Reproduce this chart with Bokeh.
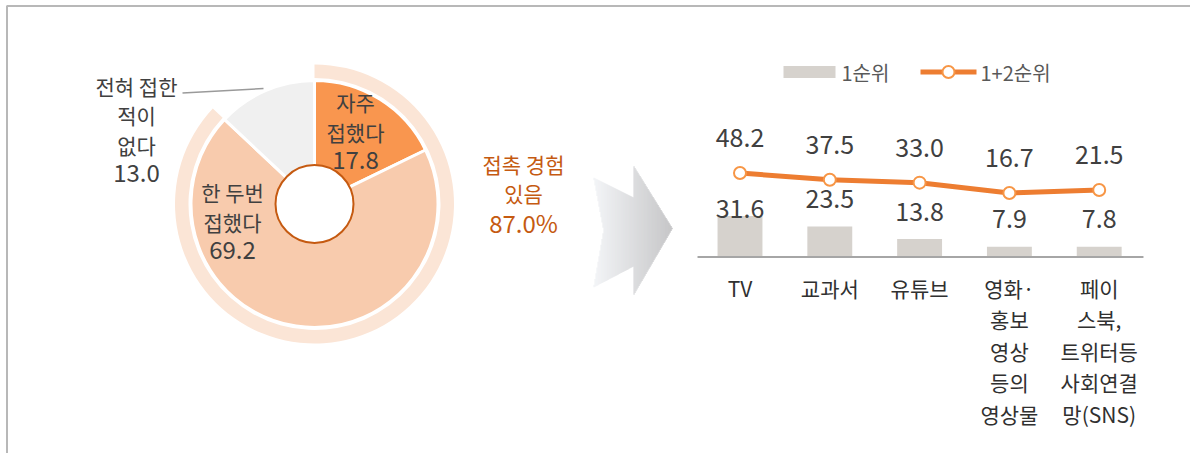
import numpy as np
from bokeh.plotting import figure
from bokeh.models import Range1d
from bokeh.core.properties import value
from bokeh.embed import file_html
from bokeh.resources import INLINE

# ---------------- data ----------------
donut_labels = ["자주\n접했다", "한 두번\n접했다", "전혀 접한\n적이\n없다"]
donut_values = [17.8, 69.2, 13.0]
contact_label = "접촉 경험\n있음"
contact_total = 87.0

categories = ["TV", "교과서", "유튜브",
              "영화·\n홍보\n영상\n등의\n영상물",
              "페이\n스북,\n트위터등\n사회연결\n망(SNS)"]
rank1 = [31.6, 23.5, 13.8, 7.9, 7.8]
rank12 = [48.2, 37.5, 33.0, 16.7, 21.5]
series_names = ["1순위", "1+2순위"]

# ---------------- layout / style ----------------
FONT = "Noto Sans CJK KR"
W, H = 1190, 453
OX, OY = 0, 0
TXT = "#404040"
ORANGE = "#ed7d31"
DARK_OR = "#c55a11"
BAR_C = "#d6d2cd"
slice_colors = ["#f9964f", "#f8cbad", "#f0f0f0"]
RING_C = "#fbe5d6"


def sy(y):
    """page-pixel y -> data y (y up)"""
    return OY + H - y


p = figure(width=W, height=H, x_range=Range1d(OX, OX + W), y_range=Range1d(0, H),
           output_backend="svg", toolbar_location=None, min_border=0,
           x_axis_location=None, y_axis_location=None)
p.grid.visible = False
p.outline_line_color = None
p.background_fill_color = "white"
p.border_fill_color = "white"

# frame lines (top & left)
p.line([6, W], [sy(5.5), sy(5.5)], line_color="#b8b8b8", line_width=2)
p.line([6.5, 6.5], [0, sy(5.5)], line_color="#b8b8b8", line_width=2)

# ---------------- donut ----------------
cx, cy = 314, sy(203.5)
vals = np.array(donut_values)
cum = np.concatenate([[0], np.cumsum(vals)]) / vals.sum()
starts = np.pi / 2 - 2 * np.pi * cum[:-1]
ends = np.pi / 2 - 2 * np.pi * cum[1:]

# outer ring for "contact" share
p.annular_wedge(x=cx, y=cy, inner_radius=126, outer_radius=139.5,
                start_angle=np.pi / 2,
                end_angle=np.pi / 2 - 2 * np.pi * contact_total / 100,
                direction="clock", fill_color=RING_C, line_color=None)

p.annular_wedge(x=[cx] * 3, y=[cy] * 3, inner_radius=30, outer_radius=123.5,
                start_angle=list(starts), end_angle=list(ends), direction="clock",
                fill_color=slice_colors, line_color="white", line_width=3)
p.circle(x=cx, y=cy, radius=39, fill_color="white", line_color=DARK_OR, line_width=2)

# slice labels (first-line centre, page coords)
label_pos = [(355, 101.7), (232, 191.7), (136, 85)]
LINE_GAP = 29.5
for lab, v, (lx, ly) in zip(donut_labels, donut_values, label_pos):
    lines = lab.split("\n")
    for i, ln in enumerate(lines):
        p.text(x=[lx], y=[sy(ly + i * LINE_GAP)], text=[ln], text_font=value(FONT),
               text_font_size="21px", text_color=TXT, text_align="center",
               text_baseline="middle")
    p.text(x=[lx], y=[sy(ly + len(lines) * LINE_GAP - 1)], text=[f"{v:.1f}"],
           text_font=value(FONT), text_font_size="24px", text_color=TXT,
           text_align="center", text_baseline="middle")

# leader line for the outside label
p.line([182, 263], [sy(92.5), sy(88)], line_color="#9a9a9a", line_width=1.5)

# contact text
c_lines = contact_label.split("\n")
for i, ln in enumerate(c_lines):
    p.text(x=[523], y=[sy(163 + i * 29.5)], text=[ln], text_font=value(FONT),
           text_font_size="21px", text_color=DARK_OR, text_align="center",
           text_baseline="middle")
p.text(x=[523], y=[sy(163 + len(c_lines) * 29.5)], text=[f"{contact_total:.1f}%"],
       text_font=value(FONT), text_font_size="24px", text_color=DARK_OR,
       text_align="center", text_baseline="middle")

# ---------------- gradient arrow ----------------
poly = [(593, 177), (633, 197), (633, 165), (672, 228), (633, 295), (633, 266),
        (593, 287), (603, 230)]
c0 = np.array([241, 243, 246])
c1 = np.array([184, 184, 186])
qs = dict(left=[], right=[], top=[], bottom=[], color=[])
for xc in range(593, 672):
    xm = xc + 0.5
    ys = []
    n = len(poly)
    for k in range(n):
        (x1, y1), (x2, y2) = poly[k], poly[(k + 1) % n]
        if (x1 <= xm < x2) or (x2 <= xm < x1):
            ys.append(y1 + (xm - x1) * (y2 - y1) / (x2 - x1))
    ys.sort()
    t = (xm - 593) / (672 - 593)
    col = (c0 + (c1 - c0) * t).astype(int)
    hexc = "#%02x%02x%02x" % tuple(col)
    for a, b in zip(ys[0::2], ys[1::2]):
        qs["left"].append(xc)
        qs["right"].append(xc + 1.1)
        qs["top"].append(sy(a))
        qs["bottom"].append(sy(b))
        qs["color"].append(hexc)
p.quad(left=qs["left"], right=qs["right"], top=qs["top"], bottom=qs["bottom"],
       fill_color=qs["color"], line_color=None)

# ---------------- bar + line chart ----------------
X0, DX = 739.5, 89.8           # page x of first category, spacing
BASE = OY + H - 256.5          # baseline height from frame bottom (px)
BPX = 1.3                      # px per unit for bars
LZERO = BASE + 53.4            # zero of line axis (px from bottom)
LPX = 0.635                    # px per unit for line

p.extra_x_ranges = {"idx": Range1d(-(X0 - OX) / DX, -(X0 - OX) / DX + W / DX)}
p.extra_y_ranges = {"bar": Range1d(-BASE / BPX, (H - BASE) / BPX),
                    "line": Range1d(-LZERO / LPX, (H - LZERO) / LPX)}

idx = list(range(len(categories)))
p.vbar(x=idx, top=rank1, bottom=0, width=0.5, fill_color=BAR_C, line_color=None,
       x_range_name="idx", y_range_name="bar")
p.line([-0.473, 4.493], [0, 0], line_color="#a6a6a6", line_width=2,
       x_range_name="idx", y_range_name="bar")

p.line(idx, rank12, line_color=ORANGE, line_width=5, x_range_name="idx",
       y_range_name="line")
p.scatter(idx, rank12, marker="circle", size=12, fill_color="white",
          line_color="#f79646", line_width=2, x_range_name="idx", y_range_name="line")

# line value labels
p.text(x=idx, y=rank12, text=[f"{v:.1f}" for v in rank12], y_offset=-35,
       text_font=value(FONT), text_font_size="25px", text_color=TXT,
       text_align="center", text_baseline="middle", x_range_name="idx",
       y_range_name="line")

# bar value labels (moved below the line point when they would collide)
bar_lab_y = []
for b, l in zip(rank1, rank12):
    c_px = BASE + b * BPX + 28
    l_px = LZERO + l * LPX
    if abs(c_px - l_px) < 16:
        c_px = l_px - 36
    bar_lab_y.append((c_px - BASE) / BPX)
p.text(x=idx, y=bar_lab_y, text=[f"{v:.1f}" for v in rank1],
       text_font=value(FONT), text_font_size="25px", text_color=TXT,
       text_align="center", text_baseline="middle", x_range_name="idx",
       y_range_name="bar")

# category labels
for i, cat in enumerate(categories):
    for j, ln in enumerate(cat.split("\n")):
        p.text(x=[i], y=[0], text=[ln], y_offset=30.5 + j * 31.6,
               text_font=value(FONT), text_font_size="21px", text_color="#303030",
               text_align="center", text_baseline="middle", x_range_name="idx",
               y_range_name="bar")

# legend
LY = sy(71.5)
p.quad(left=783, right=835, top=LY + 6, bottom=LY - 6, fill_color=BAR_C, line_color=None)
p.text(x=[841], y=[LY], text=[series_names[0]], text_font=value(FONT),
       text_font_size="20px", text_color="#595959", text_align="left",
       text_baseline="middle")
p.line([920, 976], [LY, LY], line_color=ORANGE, line_width=5)
p.scatter([948], [LY], marker="circle", size=12, fill_color="white",
          line_color="#f79646", line_width=2)
p.text(x=[980], y=[LY], text=[series_names[1]], text_font=value(FONT),
       text_font_size="20px", text_color="#595959", text_align="left",
       text_baseline="middle")

open("out.html", "w").write(file_html(p, INLINE))
